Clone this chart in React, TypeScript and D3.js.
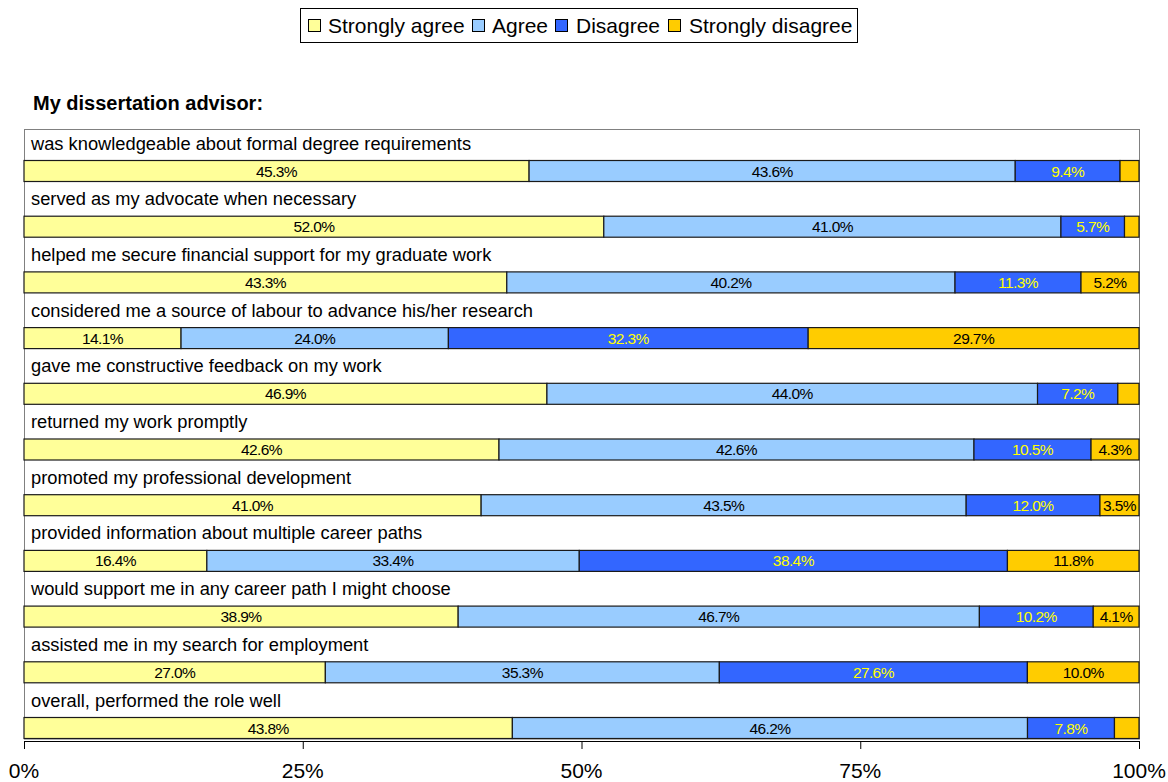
import React from 'react';
import * as d3 from 'd3';

const categories = [
  'was knowledgeable about formal degree requirements',
  'served as my advocate when necessary',
  'helped me secure financial support for my graduate work',
  'considered me a source of labour to advance his/her research',
  'gave me constructive feedback on my work',
  'returned my work promptly',
  'promoted my professional development',
  'provided information about multiple career paths',
  'would support me in any career path I might choose',
  'assisted me in my search for employment',
  'overall, performed the role well',
];
const stronglyAgree = [45.3, 52.0, 43.3, 14.1, 46.9, 42.6, 41.0, 16.4, 38.9, 27.0, 43.8];
const agree = [43.6, 41.0, 40.2, 24.0, 44.0, 42.6, 43.5, 33.4, 46.7, 35.3, 46.2];
const disagree = [9.4, 5.7, 11.3, 32.3, 7.2, 10.5, 12.0, 38.4, 10.2, 27.6, 7.8];
const stronglyDisagree = [1.7, 1.3, 5.2, 29.7, 1.9, 4.3, 3.5, 11.8, 4.1, 10.0, 2.2];
const seriesNames = ['Strongly agree', 'Agree', 'Disagree', 'Strongly disagree'];
const seriesKeys = ['sa', 'a', 'd', 'sd'];
const seriesColors = ['#FFFF99', '#99CCFF', '#3366FF', '#FFCC00'];
const labelColors = ['#000000', '#000000', '#FFFF00', '#000000'];
const tickValues = [0, 0.25, 0.5, 0.75, 1];
const tickLabels = ['0%', '25%', '50%', '75%', '100%'];
const title = 'My dissertation advisor:';

const FONT = 'Liberation Sans, Arial, Helvetica, sans-serif';

export default function App() {
  const W = 1168, H = 782;
  const left = 24, right = 1139, top = 129.5, bottom = 742.2;
  const x = d3.scaleLinear().domain([0, 1]).range([left, right]);
  const y = d3.scaleBand<string>().domain(categories).range([top, bottom]).paddingInner(0).paddingOuter(0);
  const barOffset = 31;
  const barH = 21;

  const rows = categories.map((c, i) => ({
    cat: c, sa: stronglyAgree[i], a: agree[i], d: disagree[i], sd: stronglyDisagree[i],
  }));
  const stack = d3.stack<any>().keys(seriesKeys).offset(d3.stackOffsetExpand);
  const stacked = stack(rows);

  const legendSwatchX = [308, 472, 555, 668];
  const legendTextX = [328, 492, 576, 689];
  const axisY = 741;

  return (
    <svg width={W} height={H} style={{ position: 'absolute', left: 0, top: 0, background: '#fff' }} fontFamily={FONT}>
      <rect x={0} y={0} width={W} height={H} fill="#fff" />
      {/* legend */}
      <rect x={300.5} y={8.5} width={557} height={34} fill="#fff" stroke="#000" strokeWidth={1} />
      {seriesNames.map((n, i) => (
        <g key={n}>
          <rect x={legendSwatchX[i] + 0.5} y={19.5} width={12} height={12} fill={seriesColors[i]} stroke="#000" strokeWidth={1} />
          <text x={legendTextX[i]} y={33} fontSize={21} fill="#000">{n}</text>
        </g>
      ))}
      {/* title */}
      <text x={33} y={110} fontSize={20} fontWeight="bold" fill="#000">{title}</text>
      {/* frame */}
      <rect x={left + 0.5} y={top} width={right - left} height={739 - top} fill="#fff" stroke="#808080" strokeWidth={1} />
      {/* category labels */}
      {categories.map((c) => (
        <text key={c} x={31} y={(y(c) as number) + barOffset - 11} fontSize={18.3} fill="#000">{c}</text>
      ))}
      {/* bars */}
      {stacked.map((s, si) => (
        <g key={s.key}>
          {s.map((d, ri) => {
            const x0 = x(d[0]);
            const x1 = x(d[1]);
            const yy = (y(categories[ri]) as number) + barOffset;
            const v = (d.data as any)[s.key] as number;
            return (
              <g key={ri}>
                <rect x={x0} y={yy} width={x1 - x0} height={barH} fill={seriesColors[si]} stroke="#1a1a1a" strokeWidth={1.2} />
                {v >= 3 && (
                  <text x={(x0 + x1) / 2} y={yy + barH / 2 + 5.5} textAnchor="middle" fontSize={15.5} letterSpacing={-0.6} fill={labelColors[si]}>
                    {v.toFixed(1) + '%'}
                  </text>
                )}
              </g>
            );
          })}
        </g>
      ))}
      {/* axis */}
      <line x1={left} x2={right + 1} y1={axisY + 0.5} y2={axisY + 0.5} stroke="#000" strokeWidth={1} />
      {tickValues.map((t, i) => (
        <g key={t}>
          <line x1={x(t) + 0.5} x2={x(t) + 0.5} y1={axisY} y2={axisY + 8} stroke="#000" strokeWidth={1} />
          <text x={x(t)} y={778} textAnchor="middle" fontSize={21} fill="#000">{tickLabels[i]}</text>
        </g>
      ))}
    </svg>
  );
}
